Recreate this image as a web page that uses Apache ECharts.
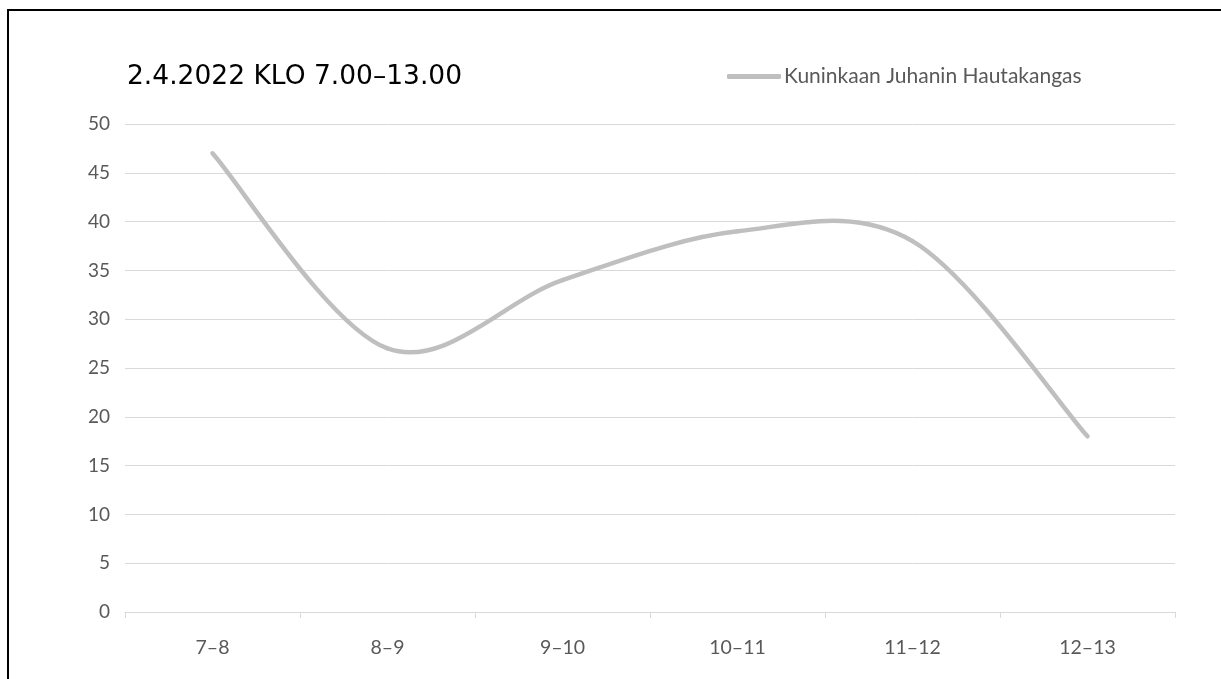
<!DOCTYPE html>
<html>
<head>
<meta charset="utf-8">
<script src="https://cdn.jsdelivr.net/npm/echarts@6/dist/echarts.min.js"></script>
<style>
  html, body { margin: 0; padding: 0; background: #fff; }
  #frame { position: absolute; left: 7px; top: 9px; width: 1300px; height: 800px; border: 2px solid #000; box-sizing: border-box; }
  #chart { position: absolute; left: 0; top: 0; width: 1221px; height: 679px; }
</style>
</head>
<body>
<div id="frame"></div>
<div id="chart"></div>
<script>
// Visitor counts per hour, 2 April 2022
const titleText = '2.4.2022 KLO 7.00\u201313.00';
const seriesName = 'Kuninkaan Juhanin Hautakangas';
const hours = ['7\u20138', '8\u20139', '9\u201310', '10\u201311', '11\u201312', '12\u201313'];
const visitors = [47, 27, 34, 39, 38, 18];
const yMin = 0, yMax = 50, yStep = 5;

const lineColor = '#BFBFBF';
const labelFont = 'Lato, "Open Sans", sans-serif';

// Each item draws the cubic segment from point i to point i+1, with
// Catmull-Rom style control points (tangent = (next - prev) / 6).
function renderSegment(params, api) {
  const i = params.dataIndex;
  const last = visitors.length - 1;
  if (i >= last) return null;
  const pt = k => {
    const j = Math.max(0, Math.min(last, k));
    return api.coord([j, visitors[j]]);
  };
  const p0 = pt(i - 1), p1 = pt(i), p2 = pt(i + 1), p3 = pt(i + 2);
  return {
    type: 'bezierCurve',
    shape: {
      x1: p1[0], y1: p1[1],
      x2: p2[0], y2: p2[1],
      cpx1: p1[0] + (p2[0] - p0[0]) / 6, cpy1: p1[1] + (p2[1] - p0[1]) / 6,
      cpx2: p2[0] - (p3[0] - p1[0]) / 6, cpy2: p2[1] - (p3[1] - p1[1]) / 6
    },
    style: { stroke: lineColor, lineWidth: 4.5, fill: null, lineCap: 'round' },
    silent: true
  };
}

const chart = echarts.init(document.getElementById('chart'), null, { renderer: 'canvas' });

chart.setOption({
  animation: false,
  backgroundColor: 'transparent',
  title: {
    text: titleText,
    left: 122,
    top: 59,
    textStyle: { fontFamily: '"DejaVu Sans", sans-serif', fontSize: 26.5, fontWeight: 'normal', color: '#000' }
  },
  legend: {
    data: [seriesName],
    left: 722,
    top: 61,
    icon: 'roundRect',
    itemWidth: 54,
    itemHeight: 5,
    itemGap: 0,
    itemStyle: { color: lineColor },
    textStyle: { fontFamily: labelFont, fontSize: 21, color: '#595959', padding: [0, 0, 0, -2] }
  },
  grid: { left: 125, right: 46, top: 124, bottom: 67, containLabel: false },
  xAxis: {
    type: 'category',
    data: hours,
    boundaryGap: true,
    axisLine: { lineStyle: { color: '#D9D9D9', width: 1 } },
    axisTick: { show: true, length: 6, lineStyle: { color: '#D9D9D9' } },
    axisLabel: { fontFamily: labelFont, fontSize: 19.5, color: '#595959', margin: 26 },
    splitLine: { show: false }
  },
  yAxis: {
    type: 'value',
    min: yMin, max: yMax, interval: yStep,
    axisLine: { show: false },
    axisTick: { show: false },
    axisLabel: { fontFamily: labelFont, fontSize: 19, color: '#595959', margin: 15 },
    splitLine: { lineStyle: { color: '#D9D9D9', width: 1 } }
  },
  series: [{
    name: seriesName,
    type: 'custom',
    renderItem: renderSegment,
    data: hours.map((h, i) => [i, visitors[i]]),
    encode: { x: 0, y: 1 },
    itemStyle: { color: lineColor }
  }]
});
</script>
</body>
</html>
